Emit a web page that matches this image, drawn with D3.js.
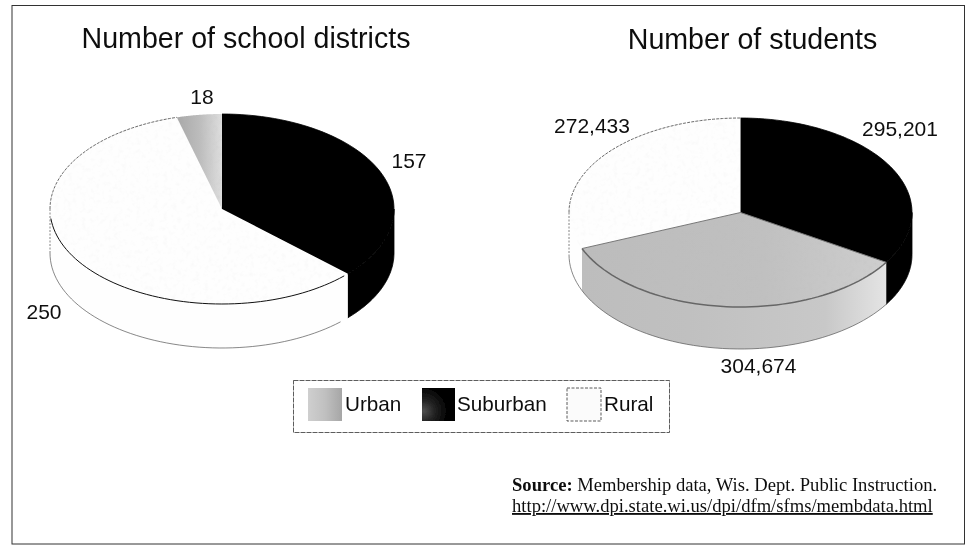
<!DOCTYPE html>
<html><head><meta charset="utf-8">
<script src="https://cdn.jsdelivr.net/npm/d3@7"></script>
<style>html,body{margin:0;padding:0;background:#fff}svg{display:block}
text{font-family:"Liberation Sans",Arial,sans-serif;fill:#111}</style></head>
<body><svg id="c" width="968" height="546"></svg>
<script>
const categories = ["Urban","Suburban","Rural"];
const seriesOrderDistricts = ["Suburban","Rural","Urban"];
const districtValues = [157,250,18];
const districtLabels = ["157","250","18"];
const seriesOrderStudents = ["Suburban","Urban","Rural"];
const studentValues = [295201,304674,272433];
const studentLabels = ["295,201","304,674","272,433"];
const titles = ["Number of school districts","Number of students"];
const sourceBold = "Source:";
const sourceText = " Membership data, Wis. Dept. Public Instruction.";
const sourceUrl = "http://www.dpi.state.wi.us/dpi/dfm/sfms/membdata.html";

const W=968,H=546;
const svg=d3.select("#c");
const defs=svg.append("defs");
const soft=defs.append("filter").attr("id","soft").attr("x",0).attr("y",0).attr("filterUnits","userSpaceOnUse").attr("width",W).attr("height",H);
soft.append("feGaussianBlur").attr("stdDeviation",0.45);
const mott=defs.append("filter").attr("id","mott").attr("filterUnits","userSpaceOnUse").attr("x",0).attr("y",0).attr("width",W).attr("height",H);
mott.append("feTurbulence").attr("type","fractalNoise").attr("baseFrequency",0.22).attr("numOctaves",2).attr("seed",4).attr("result","n");
mott.append("feColorMatrix").attr("in","n").attr("type","matrix").attr("values","0 0 0 0 0.5  0 0 0 0 0.5  0 0 0 0 0.5  1.6 0 0 0 -0.78").attr("result","a");
mott.append("feComposite").attr("in","a").attr("in2","SourceGraphic").attr("operator","in");

function grad(id,stops,x2,y2){
  const g=defs.append("linearGradient").attr("id",id).attr("x1",0).attr("y1",0).attr("x2",x2).attr("y2",y2);
  stops.forEach(s=>g.append("stop").attr("offset",s[0]).attr("stop-color",s[1]));
}
grad("urbanWall",[[0,"#bdbdbd"],[0.35,"#c0c0c0"],[0.8,"#c8c8c8"],[1,"#e4e4e4"]],1,0);
grad("urbanTop",[[0,"#bcbcbc"],[0.6,"#c0c0c0"],[1,"#cecece"]],1,0);
grad("urbanWedge",[[0,"#a8a8a8"],[0.5,"#bcbcbc"],[1,"#dedede"]],1,0);
grad("swU",[[0,"#cfcfcf"],[0.5,"#c0c0c0"],[1,"#a6a6a6"]],1,0);
const sw=defs.append("radialGradient").attr("id","swS").attr("cx",0.05).attr("cy",0.7).attr("r",0.75);
[[0,"#4f4f4f"],[0.45,"#222"],[1,"#000"]].forEach(s=>sw.append("stop").attr("offset",s[0]).attr("stop-color",s[1]));

const root=svg.append("g").attr("filter","url(#soft)");
root.append("rect").attr("x",12).attr("y",5.5).attr("width",952.5).attr("height",538.5)
  .attr("fill","#fff").attr("stroke","#333").attr("stroke-width",1);

const fillTop={Urban:"url(#urbanTop)",Suburban:"#000",Rural:"#fefefe"};
const fillWall={Urban:"url(#urbanWall)",Suburban:"#000",Rural:"#fefefe"};

function drawPie(o){
  const x=d3.scaleLinear().domain([-1,1]).range([o.cx-o.rx,o.cx+o.rx]);
  const y=d3.scaleLinear().domain([-1,1]).range([o.cy-o.ry,o.cy+o.ry]);
  const line=d3.line().x(d=>x(Math.sin(d.a))).y(d=>y(-Math.cos(d.a))+(d.z||0));
  const samples=(a,b,z)=>d3.range(0,61).map(i=>({a:a+(b-a)*i/60,z}));
  const wedge=d=>`M${x(0)},${y(0)}L`+line(samples(d.startAngle,d.endAngle,0)).slice(1)+"Z";
  const pie=d3.pie().sort(null).value(d=>d.v);
  const arcs=pie(o.names.map((n,i)=>({n,v:o.values[i]})));
  const g=root.append("g");
  g.selectAll(null).data(arcs.filter(d=>d.endAngle>Math.PI/2&&d.startAngle<Math.PI*1.5)).enter().append("path")
    .attr("fill",d=>fillWall[d.data.n])
    .attr("stroke",d=>d.data.n==="Suburban"?"#000":"none").attr("stroke-width",0.8)
    .attr("d",d=>{
      const a=Math.max(d.startAngle,Math.PI/2),b=Math.min(d.endAngle,Math.PI*1.5);
      return line([...samples(a,b,0),...samples(b,a,o.depth)])+"Z";
    });
  g.append("path").attr("fill","none").attr("stroke","#555").attr("stroke-width",0.7)
    .attr("d",line(samples(o.lowA,o.lowB,o.depth)));
  g.selectAll(null).data(arcs).enter().append("path")
    .attr("fill",d=>d.data.n==="Urban"&&o.small?"url(#urbanWedge)":fillTop[d.data.n])
    .attr("stroke",d=>d.data.n==="Suburban"?"#000":"none").attr("stroke-width",0.8)
    .attr("d",wedge);
  g.selectAll(null).data(arcs.filter(d=>d.data.n!=="Suburban")).enter().append("path")
    .attr("filter","url(#mott)").attr("fill","#000").attr("opacity",d=>d.data.n==="Rural"?0.1:0.3)
    .attr("d",wedge);
  const rural=arcs.find(d=>d.data.n==="Rural");
  g.append("path").attr("fill","none").attr("stroke","#444").attr("stroke-width",0.8).attr("stroke-dasharray","3 1.2")
    .attr("d",line(samples(Math.max(rural.startAngle,Math.PI*1.5),rural.endAngle,0)));
  g.append("path").attr("fill","none").attr("stroke","#666").attr("stroke-width",0.8).attr("stroke-dasharray","2 1.5")
    .attr("d",line([{a:Math.PI*1.5,z:0},{a:Math.PI*1.5,z:o.depth}]));
  g.append("path").attr("fill","none").attr("stroke",o.rimColor).attr("stroke-width",o.rimWidth)
    .attr("d",line(samples(o.rimA,o.rimB,0)));
  if(o.spokes){
    [o.rimA,o.rimB].forEach(a=>g.append("path").attr("fill","none").attr("stroke","#777").attr("stroke-width",1)
      .attr("d",`M${x(0)},${y(0)}L${x(Math.sin(a))},${y(-Math.cos(a))}`));
  }
  o.labels.forEach(l=>root.append("text").attr("x",l[1]).attr("y",l[2]).attr("font-size",21).attr("text-anchor","middle").text(l[0]));
}

const a1=2*Math.PI*districtValues[0]/d3.sum(districtValues);
drawPie({cx:222,cy:209,rx:172,ry:95,depth:44,names:seriesOrderDistricts,values:districtValues,small:true,
  lowA:a1+0.06,lowB:Math.PI*1.5,rimA:a1+0.03,rimB:Math.PI*1.5-0.1,rimColor:"#111",rimWidth:1,
  labels:[[districtLabels[2],202,104],[districtLabels[1],44,319],[districtLabels[0],409,168]]});
const s0=d3.sum(studentValues), b1=2*Math.PI*studentValues[0]/s0, b2=2*Math.PI*(studentValues[0]+studentValues[1])/s0;
drawPie({cx:740.5,cy:212.5,rx:171.5,ry:94.5,depth:42,names:seriesOrderStudents,values:studentValues,spokes:true,
  lowA:b1,lowB:Math.PI*1.5,rimA:b1,rimB:b2,rimColor:"#666",rimWidth:1.5,
  labels:[[studentLabels[0],900,136],[studentLabels[1],758.5,373],[studentLabels[2],592,133]]});
titles.forEach((t,i)=>root.append("text").attr("x",[246,752.5][i]).attr("y",[48,49][i]).attr("font-size",28.6).attr("text-anchor","middle").text(t));

const lg=root.append("g");
lg.append("rect").attr("x",293.5).attr("y",380.5).attr("width",376).attr("height",52).attr("fill","#fff").attr("stroke","#333").attr("stroke-width",0.8).attr("stroke-dasharray","5 1");
const swX=[308,422,567], txX=[345,457,604], swF=["url(#swU)","url(#swS)","#fbfbfb"];
categories.forEach((c,i)=>{
  lg.append("rect").attr("x",swX[i]).attr("y",388).attr("width",i===1?33:34).attr("height",33).attr("fill",swF[i])
    .attr("stroke",i===2?"#333":"none").attr("stroke-width",0.8).attr("stroke-dasharray",i===2?"3 1.5":null);
  lg.append("text").attr("x",txX[i]).attr("y",411).attr("font-size",20.7).text(c);
});

const st=root.append("text").attr("x",512).attr("y",491).style("font-family","'Liberation Serif',serif").attr("font-size",18.6);
st.append("tspan").attr("font-weight","bold").text(sourceBold);
st.append("tspan").text(sourceText);
root.append("text").attr("x",512).attr("y",512).style("font-family","'Liberation Serif',serif").attr("font-size",18.6).attr("text-decoration","underline").text(sourceUrl);
</script></body></html>
